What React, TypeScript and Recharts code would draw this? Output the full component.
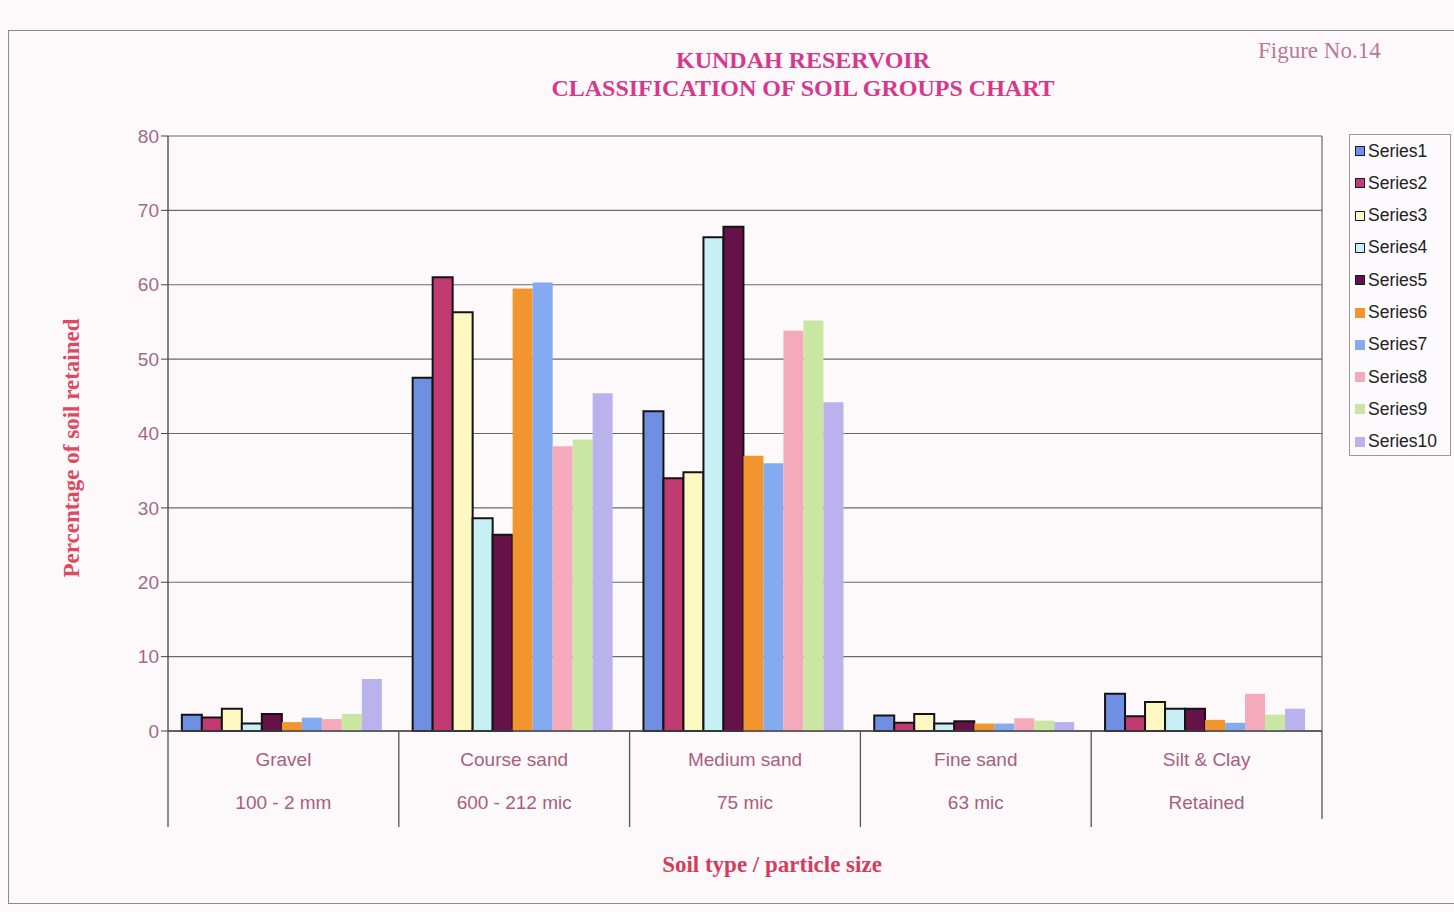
import React from 'react';
import { BarChart, Bar, XAxis, YAxis, CartesianGrid } from 'recharts';

// soil categories and their particle size sub-labels
const categories = ['Gravel', 'Course sand', 'Medium sand', 'Fine sand', 'Silt & Clay'];
const sizeLabels = ['100 - 2 mm', '600 - 212 mic', '75 mic', '63 mic', 'Retained'];
const yTicks = [0, 10, 20, 30, 40, 50, 60, 70, 80];

// percentage of soil retained, one value per category
const series1 = [2.2, 47.5, 43, 2.1, 5.0];
const series2 = [1.8, 61, 34, 1.1, 2.0];
const series3 = [3.0, 56.3, 34.8, 2.3, 3.9];
const series4 = [1.0, 28.6, 66.4, 1.0, 3.0];
const series5 = [2.3, 26.4, 67.8, 1.3, 3.0];
const series6 = [1.2, 59.5, 37, 1.0, 1.5];
const series7 = [1.8, 60.3, 36, 1.0, 1.1];
const series8 = [1.6, 38.3, 53.8, 1.7, 5.0];
const series9 = [2.3, 39.2, 55.2, 1.4, 2.2];
const series10 = [7.0, 45.4, 44.2, 1.2, 3.0];

const seriesNames = ['Series1', 'Series2', 'Series3', 'Series4', 'Series5', 'Series6', 'Series7', 'Series8', 'Series9', 'Series10'];
const seriesValues = [series1, series2, series3, series4, series5, series6, series7, series8, series9, series10];
const seriesColors = ['#6f8fe2', '#c23a72', '#fdf7c2', '#c8eff4', '#661147', '#f2952f', '#84aaf0', '#f4aabb', '#c9e7a3', '#b9b2ec'];
const outlined = [true, true, true, true, true, false, false, false, false, false];

const chartData = categories.map((name, i) => {
  const row: Record<string, string | number> = { name, size: sizeLabels[i] };
  seriesNames.forEach((s, j) => {
    row[s] = seriesValues[j][i];
  });
  return row;
});

const W = 1454;
const H = 912;
const plotLeft = 168;
const plotRight = 1322;
const plotTop = 136;
const plotBottom = 731;
const bandWidth = (plotRight - plotLeft) / categories.length;

const labelColor = '#a8607c';
const sans = 'Liberation Sans, Arial, sans-serif';
const serif = '"Liberation Serif", "Times New Roman", serif';

const CategoryTick = (props: any) => {
  const { x, y, payload, index } = props;
  const half = bandWidth / 2;
  return (
    <g>
      <line x1={x - half} y1={y - 8} x2={x - half} y2={y + 88} stroke="#555" strokeWidth={1.3} />
      {index === categories.length - 1 && (
        <line x1={x + half} y1={y - 8} x2={x + half} y2={y + 80} stroke="#555" strokeWidth={1.3} />
      )}
      <text x={x} y={y + 27} textAnchor="middle" fontSize={19} fill={labelColor} fontFamily={sans}>
        {payload.value}
      </text>
      <text x={x} y={y + 70} textAnchor="middle" fontSize={19} fill={labelColor} fontFamily={sans}>
        {sizeLabels[index]}
      </text>
    </g>
  );
};

export default function App() {
  return (
    <div style={{ position: 'absolute', left: 0, top: 0, width: W, height: H, background: '#fdf9fb', overflow: 'hidden' }}>
      <div style={{ position: 'absolute', left: 8, top: 30, width: 1450, height: 872, border: '1.5px solid #8a8a8a', borderRight: 'none' }} />
      <div
        style={{
          position: 'absolute', left: 0, width: 1606, top: 46, textAlign: 'center',
          fontFamily: serif, fontWeight: 'bold', fontSize: 24,
          color: '#d6388c', lineHeight: '28px',
        }}
      >
        KUNDAH RESERVOIR
        <br />
        CLASSIFICATION OF SOIL GROUPS CHART
      </div>
      <div
        style={{
          position: 'absolute', left: 1258, top: 38, fontFamily: serif,
          fontSize: 23, color: '#b87898',
        }}
      >
        Figure No.14
      </div>
      <div
        style={{
          position: 'absolute', left: 72, top: 448, transform: 'translate(-50%, -50%) rotate(-90deg)',
          whiteSpace: 'nowrap', fontFamily: serif, fontWeight: 'bold',
          fontSize: 23, color: '#e0485f',
        }}
      >
        Percentage of soil retained
      </div>
      <div
        style={{
          position: 'absolute', left: 772, top: 865, transform: 'translate(-50%, -50%)',
          whiteSpace: 'nowrap', fontFamily: serif, fontWeight: 'bold',
          fontSize: 23, color: '#d43c5c',
        }}
      >
        Soil type / particle size
      </div>

      <div style={{ position: 'absolute', left: 0, top: 0 }}>
        <BarChart
          width={W}
          height={H}
          data={chartData}
          margin={{ top: plotTop, left: plotLeft - 60, right: W - plotRight, bottom: 0 }}
          barCategoryGap="6%"
          barGap={0}
        >
          <CartesianGrid
            stroke="#6a6a6a"
            strokeWidth={1.2}
            vertical={true}
            verticalPoints={[plotRight]}
          />
          <XAxis
            dataKey="name"
            height={H - plotBottom}
            interval={0}
            tickLine={false}
            axisLine={{ stroke: '#444', strokeWidth: 1.3 }}
            tick={<CategoryTick />}
          />
          <YAxis
            width={60}
            domain={[0, 80]}
            ticks={yTicks}
            interval={0}
            tickSize={7}
            tickLine={{ stroke: '#444' }}
            axisLine={{ stroke: '#444', strokeWidth: 1.3 }}
            tick={{ fontSize: 19, fill: '#a06a86', fontFamily: sans }}
          />
          {seriesNames.map((s, j) => (
            <Bar
              key={s}
              dataKey={s}
              fill={seriesColors[j]}
              stroke={outlined[j] ? '#141414' : 'none'}
              strokeWidth={outlined[j] ? 2 : 0}
              isAnimationActive={false}
            />
          ))}
        </BarChart>
      </div>

      <div
        style={{
          position: 'absolute', left: 1349, top: 134, width: 102, height: 322,
          border: '1.5px solid #9a9a9a', background: '#fcfafc', boxSizing: 'border-box',
          fontFamily: sans, fontSize: 17.5, color: '#222',
        }}
      >
        {seriesNames.map((s, j) => (
          <div key={s} style={{ position: 'absolute', left: 5, top: 5 + j * 32.3, height: 22, display: 'flex', alignItems: 'center', whiteSpace: 'nowrap' }}>
            <span
              style={{
                display: 'inline-block', width: 8, height: 8, background: seriesColors[j],
                border: outlined[j] ? '1.5px solid #1a1a3a' : '1.5px solid transparent', marginRight: 3,
              }}
            />
            {s}
          </div>
        ))}
      </div>
    </div>
  );
}
